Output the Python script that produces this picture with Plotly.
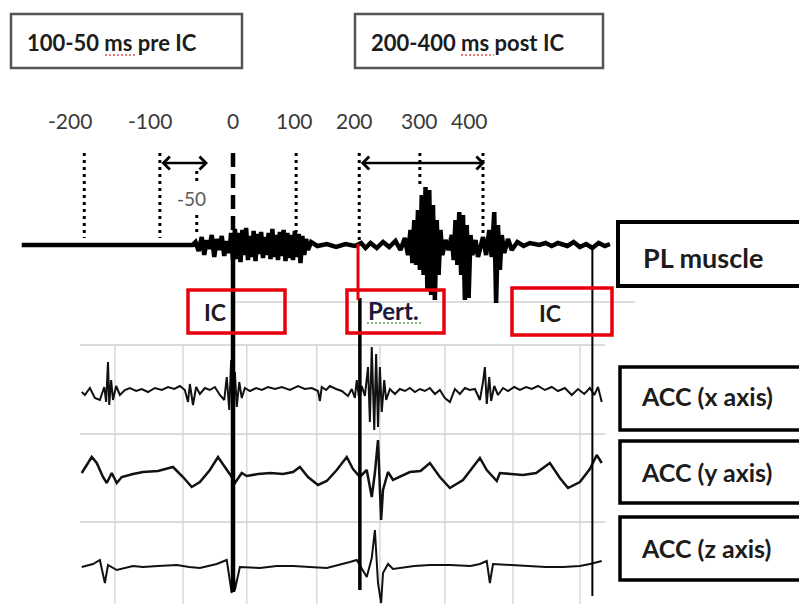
import plotly.graph_objects as go

# ---------------- data ----------------
tick_text = ["-200", "-100", "0", "100", "200", "300", "400"]
# where each time marker is drawn on the recording's time base (ms)
marker_ms = [-238, -117, 0, 101, 202, 299, 400]
label_ms = [-261, -133, 0, 99, 195, 299, 378]
minus50_ms = -58
pre_window_ms = [-117, -40]
post_window_ms = [202, 403]
ic_ms = [0, 575]
pert_ms = 200
acc_grid_ms = [-189, -80, 22, 134, 235, 339, 448, 555]

# PL muscle EMG (ms, arbitrary units)
emg_t = [-338, -65, -60, -55, -50, -46, -42, -38, -34, -30, -26, -22, -18, -14, -10, -6, -3, 0,
         3, 6, 9, 12, 15, 18, 21, 24, 27, 30, 33, 36, 39, 42, 45, 48, 51, 54, 57, 60,
         63, 66, 69, 72, 75, 78, 81, 84, 87, 90, 93, 96, 99, 102, 105, 108, 111, 114, 117, 120, 125,
         135, 150, 165, 180, 195, 205, 212, 220, 230, 240, 250, 260, 268, 275, 280,
         284, 287, 290, 293, 296, 299, 302, 305, 308, 311, 314, 317, 320, 323, 326, 329, 332, 335,
         340, 345, 350, 353, 356, 359, 362, 365, 368, 371, 374, 377, 380, 383, 388, 392,
         400, 405, 410, 414, 418, 421, 424, 427, 430, 434, 440, 446,
         455, 465, 475, 490, 500, 510, 520, 535, 545, 555, 565, 575, 585, 595, 603]
emg_v = [0, 0, 0.3, -0.6, 0.8, -1.0, 0.5, -0.4, 1.0, -1.2, 0.6, -0.5, 0.9, -1.1, 0.4, -0.8, 1.2, -1.5,
         1.6, -1.4, 1.2, -1.7, 1.5, -1.0, 1.7, -1.5, 0.9, -1.2, 1.4, -1.6, 1.1, -0.9, 1.3, -1.3, 0.8, -1.0, 1.2, -1.4,
         1.6, -1.2, 1.0, -1.5, 1.3, -1.1, 1.5, -1.6, 1.2, -1.3, 1.0, -1.5, 1.4, -1.2, 1.1, -1.8, 0.9, -1.0, 0.6, -0.5, 0.3,
         -0.1, 0.1, -0.2, 0.1, -0.1, 0.2, -0.3, 0.2, -0.3, 0.3, -0.2, 0.4, -0.5, 0.7, -1.0,
         1.5, -1.8, 2.5, -2.0, 3.5, -2.5, 5.0, -3.0, 5.8, -4.5, 5.5, -5.0, 4.0, -5.5, 2.5, -3.0, 1.5, -1.0,
         0.5, -0.5, 1.0, -1.5, 2.5, -2.0, 3.3, -3.0, 3.0, -5.5, 2.0, -5.3, 1.0, -1.0, 0.5, -1.2,
         0.8, -1.0, 1.5, -1.2, 3.3, -5.8, 2.0, -2.5, 1.0, -0.8, 0.6, -0.5,
         0.3, -0.1, 0.2, 0.0, 0.2, -0.1, 0.2, -0.1, 0.3, -0.2, 0.1, -0.3, 0.2, -0.1, 0.1]

# Accelerometer x
accx_t = [-242, -237, -229, -221, -213, -206, -203, -200, -198, -195,
          -192, -187, -181, -173, -165, -155, -146, -136, -125, -114,
          -104, -94, -85, -77, -72, -69, -64, -59, -53, -45,
          -37, -29, -21, -14, -10, -6, -3, 0, 3, 6,
          10, 14, 19, 27, 37, 46, 56, 67, 78, 91,
          104, 115, 126, 136, 139, 142, 149, 155, 165, 174,
          184, 190, 195, 198, 202, 206, 211, 216, 219, 222,
          226, 229, 232, 235, 238, 242, 245, 251, 259, 267,
          275, 283, 291, 299, 307, 315, 323, 331, 339, 347,
          355, 363, 371, 379, 387, 395, 400, 403, 406, 410,
          413, 418, 424, 432, 440, 450, 459, 469, 478, 488,
          499, 510, 520, 531, 542, 552, 562, 571, 578, 584,
          590]
accx_v = [0, -0.3, 0.4, -0.6, -0.8, 0.5, -1.0, 3.0, -1.3, 1.2,
          -0.8, 0.6, -0.3, 0.2, 0.4, 0.1, 0.3, 0.0, 0.4, 0.2,
          0.5, 0.3, 0.6, 0.2, -1.0, 0.8, -1.3, 0.5, -0.2, 0.4,
          0.2, 0.5, -0.3, -0.8, 1.5, -1.8, 3.2, -2.0, 2.0, -1.5,
          1.0, -0.6, 0.4, 0.1, 0.4, 0.2, 0.5, 0.3, 0.5, 0.2,
          0.6, 0.3, 0.4, 0.1, -0.9, 0.5, 0.2, 0.6, 0.3, 0.1,
          -0.4, 0.3, -0.6, 1.2, -0.8, 0.6, -0.4, 2.5, -3.0, 4.5,
          -3.8, 3.8, -3.5, 2.5, -2.0, 1.2, -0.8, 0.3, -0.2, 0.3,
          0.1, 0.4, 0.0, 0.3, 0.1, 0.4, -0.2, 0.2, -0.6, -1.0,
          0.3, -0.2, 0.4, 0.2, 0.3, -0.8, 1.0, 2.5, -1.2, 1.5,
          -0.9, 0.6, -0.3, 0.4, 0.1, 0.5, 0.2, 0.5, 0.3, 0.6,
          0.2, 0.5, 0.1, 0.4, -0.3, 0.3, -0.2, 0.4, -0.3, 0.5,
          -1.0]

# Accelerometer y
accy_t = [-242, -226, -218, -208, -202, -194, -186, -178, -160, -144,
          -120, -96, -80, -66, -53, -37, -24, -13, -2, 3,
          14, 22, 40, 60, 80, 96, 107, 120, 136, 150,
          166, 182, 192, 203, 214, 222, 227, 232, 237, 240,
          248, 256, 283, 300, 315, 331, 347, 368, 395, 406,
          422, 427, 445, 464, 485, 507, 523, 536, 555, 571,
          582, 590]
accy_v = [0.2, 1.8, 1.2, -0.2, -0.8, 0.2, -0.8, -0.2, 0.1, 0.3,
          0.4, 0.8, -0.2, -1.2, -0.7, 0.5, 1.8, 0.8, -0.2, -0.8,
          0.2, -0.1, 0.1, 0.2, 0.1, 0.3, 0.8, -0.2, -1.0, -0.6,
          0.5, 1.8, 0.6, -0.2, 0.5, -2.2, 0.2, 3.5, -4.5, -1.5,
          0.3, -0.5, 0.3, 0.4, 1.2, -0.2, -1.3, -0.5, 1.7, 0.5,
          -0.6, 0.2, 0.1, 0.0, 0.2, 1.2, -0.3, -1.3, -0.7, 0.6,
          2.0, 1.2]

# Accelerometer z
accz_t = [-242, -224, -213, -205, -200, -186, -160, -144, -120, -90,
          -70, -53, -26, -10, -2, 0, 3, 11, 43, 70,
          96, 125, 150, 187, 198, 214, 222, 227, 232, 237,
          240, 248, 256, 290, 315, 347, 380, 395, 406, 411,
          416, 445, 475, 500, 528, 555, 571, 590]
accz_v = [0, 0.3, 0.7, -1.6, 0.2, -0.3, 0.1, 0, 0.1, 0.2,
          0.0, -0.1, 0.3, 0.7, -2.6, 0.3, -2.3, 0, -0.1, 0.1,
          0.1, 0.0, -0.1, 0.5, 0.7, -1.0, 0.9, 3.7, -1.6, -3.6,
          -0.6, 0.3, -0.2, 0.1, 0.2, 0.2, 0.1, 0.3, 0.6, -1.6,
          0.3, 0.2, 0.1, 0.0, 0.0, 0.1, 0.3, 0.6]

assert len(emg_t) == len(emg_v)
assert len(accx_t) == len(accx_v)
assert len(accy_t) == len(accy_v)
assert len(accz_t) == len(accz_v)

# ---------------- layout helpers ----------------
W, H = 799, 604
MS_PER_PX = 1.6
X_RANGE = [-233 * MS_PER_PX, (W - 233) * MS_PER_PX]


def fy(py):
    return 1 - py / H


def fx(px):
    return px / W


def ydom(top, bottom):
    return [fy(bottom), fy(top)]


def yrng(top, bottom, base):
    return [(base - bottom) / 10.0, (base - top) / 10.0]


FONT = "Lato"
TXT = "#1c1c1c"
fig = go.Figure()

sig_line = dict(color="#111111", width=2)
fig.add_trace(go.Scatter(x=emg_t, y=emg_v, mode="lines", line=dict(color="black", width=4.5),
                         xaxis="x", yaxis="y", hoverinfo="skip"))
fig.add_trace(go.Scatter(x=accx_t, y=accx_v, mode="lines", line=sig_line,
                         xaxis="x", yaxis="y2", hoverinfo="skip"))
fig.add_trace(go.Scatter(x=accy_t, y=accy_v, mode="lines", line=dict(color="#111111", width=2.5),
                         xaxis="x", yaxis="y3", hoverinfo="skip"))
fig.add_trace(go.Scatter(x=accz_t, y=accz_v, mode="lines", line=sig_line,
                         xaxis="x", yaxis="y4", hoverinfo="skip"))

shapes = []
# ACC grid
for t in acc_grid_ms:
    shapes.append(dict(type="line", xref="x", yref="paper", x0=t, x1=t, y0=fy(345), y1=fy(604),
                       line=dict(color="#d9d9d9", width=1.5), layer="below"))
for py in [345, 434, 522]:
    shapes.append(dict(type="line", xref="paper", yref="paper", x0=fx(80), x1=fx(605), y0=fy(py), y1=fy(py),
                       line=dict(color="#cfcfcf", width=1.5), layer="below"))
# faint line under EMG
shapes.append(dict(type="line", xref="paper", yref="paper", x0=fx(230), x1=fx(635), y0=fy(302), y1=fy(302),
                   line=dict(color="#d0d0d0", width=1.5), layer="below"))

# dotted time markers
dot_bottoms = [238, 238, 238, 232, 240, 186, 238]
DOT = dict(color="black", width=3, dash="3px,4px")
for t, s, b in zip(marker_ms, tick_text, dot_bottoms):
    if s == "0":
        shapes.append(dict(type="line", xref="x", yref="paper", x0=t, x1=t, y0=fy(153), y1=fy(b),
                           line=dict(color="black", width=4.5, dash="14px,7px")))
    else:
        shapes.append(dict(type="line", xref="x", yref="paper", x0=t, x1=t, y0=fy(153), y1=fy(b), line=DOT))
# -50 marker (split around its label)
shapes.append(dict(type="line", xref="x", yref="paper", x0=minus50_ms, x1=minus50_ms,
                   y0=fy(171), y1=fy(184), line=DOT))
shapes.append(dict(type="line", xref="x", yref="paper", x0=minus50_ms, x1=minus50_ms,
                   y0=fy(215), y1=fy(236), line=DOT))

# event lines
shapes.append(dict(type="line", xref="x", yref="paper", x0=ic_ms[0], x1=ic_ms[0], y0=fy(238), y1=fy(592),
                   line=dict(color="black", width=4.5)))
shapes.append(dict(type="line", xref="x", yref="paper", x0=pert_ms + 3, x1=pert_ms + 3, y0=fy(298), y1=fy(590),
                   line=dict(color="black", width=3.5)))
shapes.append(dict(type="line", xref="x", yref="paper", x0=pert_ms, x1=pert_ms, y0=fy(244), y1=fy(300),
                   line=dict(color="#e8000b", width=3)))
shapes.append(dict(type="line", xref="x", yref="paper", x0=ic_ms[1], x1=ic_ms[1], y0=fy(250), y1=fy(596),
                   line=dict(color="black", width=2)))


# boxes
def box(x0, y0, x1, y1, color, width, fill="rgba(255,255,255,0)"):
    return dict(type="rect", xref="paper", yref="paper", x0=fx(x0), x1=fx(x1), y0=fy(y1), y1=fy(y0),
                line=dict(color=color, width=width), fillcolor=fill)


shapes.append(box(11, 14, 242, 68, "#555555", 2.5))
shapes.append(box(355, 14, 603, 68, "#555555", 2.5))
shapes.append(box(188, 290, 285, 333, "#e8000b", 3.5))
shapes.append(box(347, 290, 444, 333, "#e8000b", 3.5))
shapes.append(box(512, 288, 612, 335, "#e8000b", 3.5))
shapes.append(box(618, 222, 812, 286, "black", 4, "white"))
for (t0, t1) in [(367, 430), (441, 503), (517, 580)]:
    shapes.append(box(620, t0, 812, t1, "black", 3.5, "white"))


# spell-check squiggles
def squiggle(x0, x1, py, color):
    return dict(type="line", xref="paper", yref="paper", x0=fx(x0), x1=fx(x1), y0=fy(py), y1=fy(py),
                line=dict(color=color, width=1.5, dash="2px,2px"))


shapes.append(squiggle(105, 135, 55, "#e05050"))
shapes.append(squiggle(461, 494, 55, "#e05050"))
shapes.append(squiggle(367, 421, 323, "#5aa05a"))

annotations = []
for t, s in zip(label_ms, tick_text):
    annotations.append(dict(x=t, y=fy(121), xref="x", yref="paper", text=s, showarrow=False,
                            font=dict(family=FONT, size=21, color="#3a3a3a"), xanchor="center", yanchor="middle"))
annotations.append(dict(x=minus50_ms, y=fy(199), xref="x", yref="paper", text="-50", showarrow=False,
                        xshift=-5, xanchor="center", yanchor="middle",
                        font=dict(family=FONT, size=19, color="#5a5a5a")))
# double arrows
for (a, b) in [pre_window_ms, post_window_ms]:
    annotations.append(dict(x=b, y=fy(163), xref="x", yref="paper", ax=a, ay=0, axref="x", ayref="pixel",
                            text="", showarrow=True, arrowside="end+start", arrowhead=4, startarrowhead=4,
                            arrowwidth=2.5, arrowsize=1, startarrowsize=1, arrowcolor="black",
                            standoff=0, startstandoff=0))


def label(px, py, text, size, color=TXT):
    annotations.append(dict(x=fx(px), y=fy(py), xref="paper", yref="paper", text="<b>%s</b>" % text,
                            showarrow=False, xanchor="left", yanchor="middle",
                            font=dict(family=FONT, size=size, color=color)))


label(25, 43, "100-50 ms pre IC", 22)
label(369, 43, "200-400 ms post IC", 22)
label(202, 312, "IC", 23)
label(366, 310, "Pert.", 24, "#1a1a40")
label(537, 313, "IC", 23)
label(641, 257, "PL muscle", 27)
label(639, 396, "ACC (x axis)", 25)
label(639, 472, "ACC (y axis)", 25)
label(639, 548, "ACC (z axis)", 25)

hidden = dict(visible=False, fixedrange=True, showgrid=False, zeroline=False)
fig.update_layout(
    width=W, height=H, margin=dict(l=0, r=0, t=0, b=0),
    paper_bgcolor="white", plot_bgcolor="rgba(0,0,0,0)", showlegend=False,
    xaxis=dict(range=X_RANGE, domain=[0, 1], anchor="y", **hidden),
    yaxis=dict(domain=ydom(170, 320), range=yrng(170, 320, 245), anchor="x", **hidden),
    yaxis2=dict(domain=ydom(340, 440), range=yrng(340, 440, 392), anchor="x", **hidden),
    yaxis3=dict(domain=ydom(430, 530), range=yrng(430, 530, 475), anchor="x", **hidden),
    yaxis4=dict(domain=ydom(515, 604), range=yrng(515, 604, 567), anchor="x", **hidden),
    shapes=shapes, annotations=annotations,
)

fig.write_html("out.html")
